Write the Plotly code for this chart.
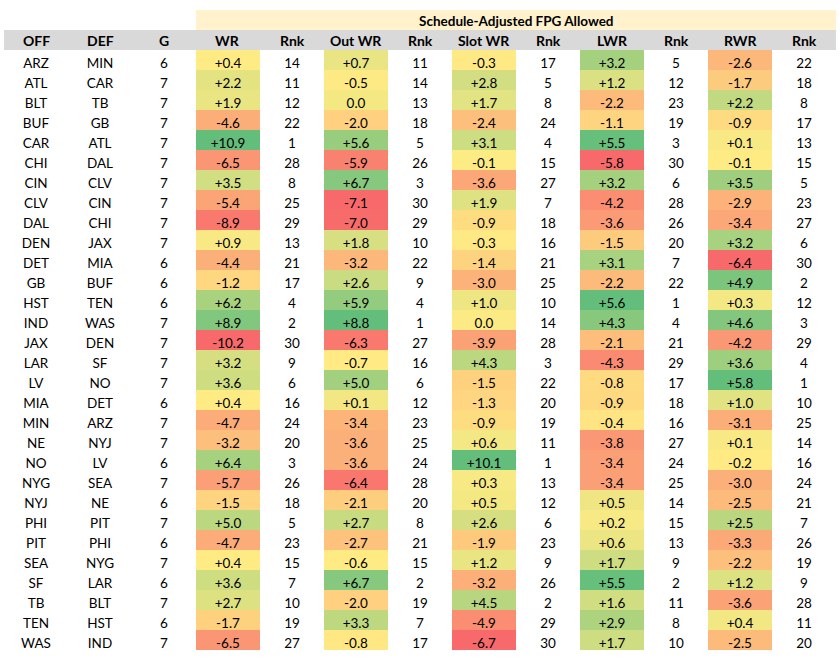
import numpy as np
import plotly.graph_objects as go

off = ["ARZ","ATL","BLT","BUF","CAR","CHI","CIN","CLV","DAL","DEN","DET","GB","HST","IND","JAX",
       "LAR","LV","MIA","MIN","NE","NO","NYG","NYJ","PHI","PIT","SEA","SF","TB","TEN","WAS"]
dfn = ["MIN","CAR","TB","GB","ATL","DAL","CLV","CIN","CHI","JAX","MIA","BUF","TEN","WAS","DEN",
       "SF","NO","DET","ARZ","NYJ","LV","SEA","NE","PIT","PHI","NYG","LAR","BLT","HST","IND"]
games = [6,7,7,7,7,7,7,7,7,7,6,6,6,7,7,7,7,6,7,7,6,7,6,7,6,7,6,7,6,7]

wr = [0.4,2.2,1.9,-4.6,10.9,-6.5,3.5,-5.4,-8.9,0.9,-4.4,-1.2,6.2,8.9,-10.2,
      3.2,3.6,0.4,-4.7,-3.2,6.4,-5.7,-1.5,5.0,-4.7,0.4,3.6,2.7,-1.7,-6.5]
wr_rk = [14,11,12,22,1,28,8,25,29,13,21,17,4,2,30,9,6,16,24,20,3,26,18,5,23,15,7,10,19,27]
out_wr = [0.7,-0.5,0.0,-2.0,5.6,-5.9,6.7,-7.1,-7.0,1.8,-3.2,2.6,5.9,8.8,-6.3,
          -0.7,5.0,0.1,-3.4,-3.6,-3.6,-6.4,-2.1,2.7,-2.7,-0.6,6.7,-2.0,3.3,-0.8]
out_rk = [11,14,13,18,5,26,3,30,29,10,22,9,4,1,27,16,6,12,23,25,24,28,20,8,21,15,2,19,7,17]
slot_wr = [-0.3,2.8,1.7,-2.4,3.1,-0.1,-3.6,1.9,-0.9,-0.3,-1.4,-3.0,1.0,0.0,-3.9,
           4.3,-1.5,-1.3,-0.9,0.6,10.1,0.3,0.5,2.6,-1.9,1.2,-3.2,4.5,-4.9,-6.7]
slot_rk = [17,5,8,24,4,15,27,7,18,16,21,25,10,14,28,3,22,20,19,11,1,13,12,6,23,9,26,2,29,30]
lwr = [3.2,1.2,-2.2,-1.1,5.5,-5.8,3.2,-4.2,-3.6,-1.5,3.1,-2.2,5.6,4.3,-2.1,
       -4.3,-0.8,-0.9,-0.4,-3.8,-3.4,-3.4,0.5,0.2,0.6,1.7,5.5,1.6,2.9,1.7]
lwr_rk = [5,12,23,19,3,30,6,28,26,20,7,22,1,4,21,29,17,18,16,27,24,25,14,15,13,9,2,11,8,10]
rwr = [-2.6,-1.7,2.2,-0.9,0.1,-0.1,3.5,-2.9,-3.4,3.2,-6.4,4.9,0.3,4.6,-4.2,
       3.6,5.8,1.0,-3.1,0.1,-0.2,-3.0,-2.5,2.5,-3.3,-2.2,1.2,-3.6,0.4,-2.5]
rwr_rk = [22,18,8,17,13,15,5,23,27,6,30,2,12,3,29,4,1,10,25,14,16,24,21,7,26,19,9,28,11,20]

headers = ["OFF","DEF","G","WR","Rnk","Out WR","Rnk","Slot WR","Rnk","LWR","Rnk","RWR","Rnk"]
title_text = "Schedule-Adjusted FPG Allowed"

RED = np.array([248,105,107]); YEL = np.array([255,235,132]); GRN = np.array([99,190,123])

def scale_colors(vals):
    v = np.array(vals, dtype=float)
    lo, hi = v.min(), v.max()
    mid = np.percentile(v, 50)
    out = []
    for x in v:
        if x <= mid:
            t = 0 if mid == lo else (x - lo) / (mid - lo)
            c = RED + (YEL - RED) * t
        else:
            t = (x - mid) / (hi - mid)
            c = YEL + (GRN - YEL) * t
        c = np.round(c).astype(int)
        out.append(f"rgb({c[0]},{c[1]},{c[2]})")
    return out

def fmt(vals):
    return [("+" if x > 0 else "") + f"{x:.1f}" for x in vals]

n = len(off)
white = ["white"] * n
values = [off, dfn, games, fmt(wr), wr_rk, fmt(out_wr), out_rk, fmt(slot_wr), slot_rk,
          fmt(lwr), lwr_rk, fmt(rwr), rwr_rk]
fills = [white, white, white, scale_colors(wr), white, scale_colors(out_wr), white,
         scale_colors(slot_wr), white, scale_colors(lwr), white, scale_colors(rwr), white]

W, H = 840, 665
FONT = "Lato, Carlito, 'Open Sans', sans-serif"
FS = 13.5
X0, X1 = 4, 836
ncol = len(headers)
colw = (X1 - X0) / ncol

fig = go.Figure(go.Table(
    domain=dict(x=[X0 / W, X1 / W], y=[0, 1 - 30 / H]),
    columnwidth=[1] * ncol,
    header=dict(values=[""] * ncol, height=20, fill_color="#D9D9D9",
                line=dict(width=0, color="#D9D9D9"),
                font=dict(family=FONT, size=FS, color="black")),
    cells=dict(values=values, fill_color=fills, line=dict(width=0, color="white"),
               align="center", height=20,
               font=dict(family=FONT, size=FS, color="black")),
))

# title band
fig.add_shape(type="rect", xref="paper", yref="paper",
              x0=(X0 + 3 * colw) / W, x1=X1 / W, y0=1 - 30 / H, y1=1 - 10 / H,
              fillcolor="#FFF2CC", line=dict(width=0), layer="below")
fig.add_annotation(text=f"<b>{title_text}</b>", xref="paper", yref="paper",
                   x=(X0 + 3 * colw + X1) / 2 / W, y=1 - 20.5 / H, showarrow=False,
                   xanchor="center", yanchor="middle",
                   font=dict(family=FONT, size=FS, color="black"))
# header labels drawn over the grey header row
for i, h in enumerate(headers):
    fig.add_annotation(text=f"<b>{h}</b>", xref="paper", yref="paper",
                       x=(X0 + colw * (i + 0.5)) / W, y=1 - 40.5 / H, showarrow=False,
                       xanchor="center", yanchor="middle",
                       font=dict(family=FONT, size=FS + 0.5, color="black"))

fig.update_layout(width=W, height=H, margin=dict(l=0, r=0, t=0, b=0),
                  paper_bgcolor="white", plot_bgcolor="white")
fig.write_html("out.html", config={"displayModeBar": False},
               post_script="document.body.style.margin='0';document.body.style.overflow='hidden';")
